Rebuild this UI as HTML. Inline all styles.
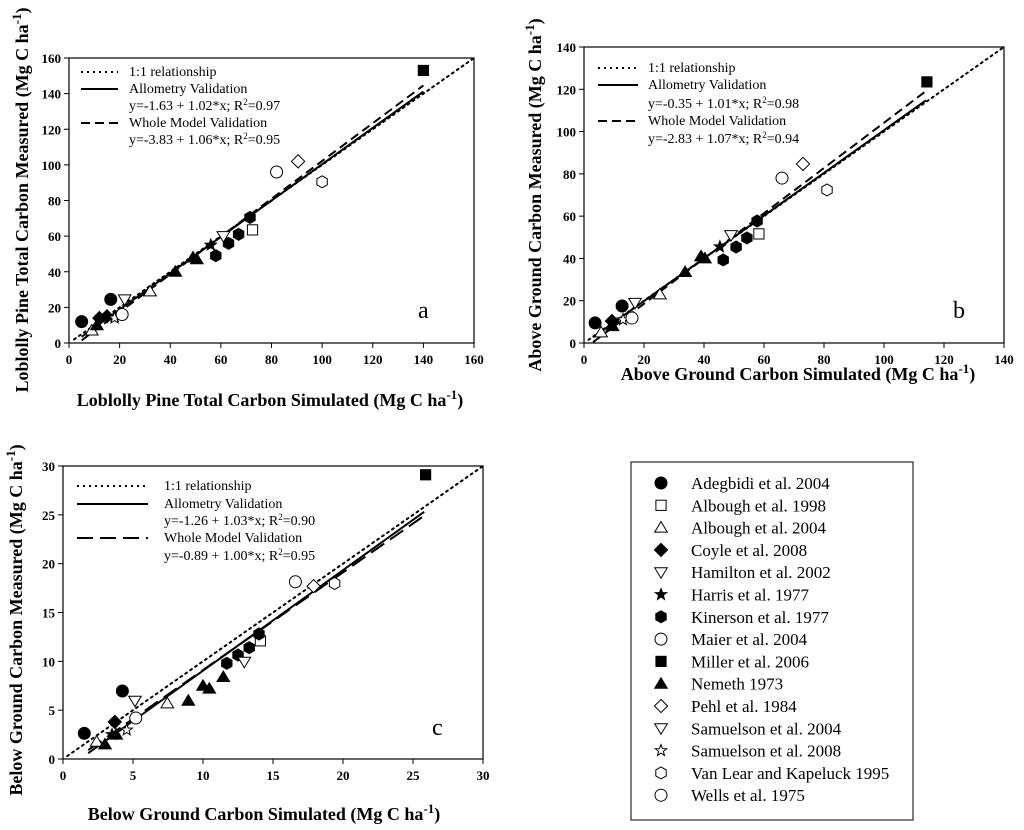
<!DOCTYPE html>
<html><head><meta charset="utf-8"><style>
body{margin:0;background:#fff}
svg{display:block;font-family:"Liberation Serif",serif}
.tk{font-size:13px;font-weight:bold}
.ti{font-size:18px;font-weight:bold}
.lg{font-size:14px}
</style></head><body>
<svg id="chart" width="1024" height="830" viewBox="0 0 1024 830">
<rect x="631" y="462" width="282" height="358" fill="none" stroke="#000" stroke-width="1"/>
</svg>
<script>
const seriesNames=["Adegbidi et al. 2004","Albough et al. 1998","Albough et al. 2004","Coyle et al. 2008","Hamilton et al. 2002","Harris et al. 1977","Kinerson et al. 1977","Maier et al. 2004","Miller et al. 2006","Nemeth 1973","Pehl et al. 1984","Samuelson et al. 2004","Samuelson et al. 2008","Van Lear and Kapeluck 1995"," Wells et al. 1975"];
const seriesShapes=["circle-f","square-o","tri-o","diamond-f","dtri-o","star-f","hex-f","circle-o","square-f","tri-f","diamond-o","dtri-o","star-o","hex-o","circle-o"];
// panel a
const aSeries=[0,0,1,2,2,3,3,4,5,5,6,6,6,6,7,8,9,9,9,9,10,11,12,13,14];
const aSim=[5,16.5,72.5,32,9,12,15,22,18,56,58,63,67,71.5,82,140,42,49,50.5,11,90.5,61,18,100,21];
const aMeas=[12,24.5,63.5,29,7,14,15,24.5,15,55,49,56,61,70.5,96,153,40,48,47,10,102,60,14,90.5,16];
const aTicks=[0,20,40,60,80,100,120,140,160];
// panel b
const bSeries=[0,0,1,2,2,3,4,5,6,6,6,6,7,8,9,9,9,9,10,11,12,13,14];
const bSim=[3.7,12.7,58.3,25.3,5.7,9.3,17,45.3,46.4,50.7,54.3,57.7,66,114.3,33.7,39,40.3,9.5,73,49,13,81,16];
const bMeas=[9.5,17.5,51.6,23,5,10.4,19,45.5,39.3,45.4,49.7,57.7,78,123.5,33.6,41,40,8,84.7,51,11,72.4,11.8];
const bTicks=[0,20,40,60,80,100,120,140];
// panel c
const cSeries=[0,0,1,2,2,3,4,5,6,6,6,6,7,8,9,9,9,9,9,9,10,11,12,13,14];
const cSim=[1.52,4.24,14.1,7.45,2.4,3.7,5.14,3.5,11.7,12.5,13.3,14,16.6,25.9,8.95,10,10.45,11.45,3,3.8,17.9,12.95,4.55,19.4,5.2];
const cMeas=[2.63,6.96,12.1,5.7,1.77,3.8,5.97,2.5,9.8,10.65,11.4,12.8,18.15,29.1,5.97,7.5,7.2,8.4,1.5,2.5,17.7,9.96,2.97,17.98,4.2];
const cTicks=[0,5,10,15,20,25,30];
// regression fits
const fitA=[-1.63,1.02],fitAW=[-3.83,1.06];
const fitB=[-0.35,1.01],fitBW=[-2.83,1.07];
const fitC=[-1.26,1.03],fitCW=[-0.89,1.00];
const eqA=["y=-1.63 + 1.02*x; R","0.97","y=-3.83 + 1.06*x; R","0.95"];
const eqB=["y=-0.35 + 1.01*x; R","0.98","y=-2.83 + 1.07*x; R","0.94"];
const eqC=["y=-1.26 + 1.03*x; R","0.90","y=-0.89 + 1.00*x; R","0.95"];

const NS="http://www.w3.org/2000/svg";
const svg=document.getElementById('chart');
function mk(tag,attrs,parent){const e=document.createElementNS(NS,tag);for(const k in attrs)e.setAttribute(k,attrs[k]);(parent||svg).appendChild(e);return e;}

function marker(g,shape,cx,cy,s){
  const filled=shape.endsWith('-f');
  const st={fill:filled?'#000':'#fff',stroke:'#000','stroke-width':1};
  const t=shape.split('-')[0];let e;
  if(t==='circle')e=mk('circle',Object.assign({cx:cx,cy:cy,r:s},st),g);
  else if(t==='square')e=mk('rect',Object.assign({x:cx-s*0.85,y:cy-s*0.85,width:s*1.7,height:s*1.7},st),g);
  else if(t==='tri')e=mk('polygon',Object.assign({points:`${cx},${cy-s} ${cx+s*1.05},${cy+s*0.75} ${cx-s*1.05},${cy+s*0.75}`},st),g);
  else if(t==='dtri')e=mk('polygon',Object.assign({points:`${cx},${cy+s} ${cx+s*1.05},${cy-s*0.75} ${cx-s*1.05},${cy-s*0.75}`},st),g);
  else if(t==='diamond')e=mk('polygon',Object.assign({points:`${cx},${cy-s*1.1} ${cx+s*1.1},${cy} ${cx},${cy+s*1.1} ${cx-s*1.1},${cy}`},st),g);
  else if(t==='hex'){let p=[];for(let i=0;i<6;i++){const a=Math.PI/6+i*Math.PI/3;p.push((cx+s*Math.cos(a)).toFixed(1)+','+(cy+s*Math.sin(a)).toFixed(1));}e=mk('polygon',Object.assign({points:p.join(' ')},st),g);}
  else if(t==='star'){let p=[];for(let i=0;i<10;i++){const r=i%2?s*0.42:s;const a=-Math.PI/2+i*Math.PI/5;p.push((cx+r*Math.cos(a)).toFixed(1)+','+(cy+r*Math.sin(a)).toFixed(1));}e=mk('polygon',Object.assign({points:p.join(' ')},st),g);}
  return e;
}

function panel(P){
  const g=mk('g',{});
  
  
  const X=v=>P.x0+(v-P.min)/(P.max-P.min)*(P.x1-P.x0);
  const Y=v=>P.y0-(v-P.min)/(P.max-P.min)*(P.y0-P.y1);
  const fr=mk('rect',{x:P.x0,y:P.y1,width:P.x1-P.x0,height:P.y0-P.y1,fill:'none',stroke:'#000','stroke-width':1.2},g);
  
  
  P.ticks.forEach(t=>{
    mk('line',{x1:X(t),y1:P.y0,x2:X(t),y2:P.y0+5,stroke:'#000'},g);
    mk('line',{x1:P.x0,y1:Y(t),x2:P.x0-5,y2:Y(t),stroke:'#000'},g);
    const tx=mk('text',{x:X(t),y:P.y0+21,'text-anchor':'middle',class:'tk'},g);tx.textContent=t;
    
    
    const ty=mk('text',{x:P.x0-8,y:Y(t)+5,'text-anchor':'end',class:'tk'},g);ty.textContent=t;
    
    
  });
  const l1=mk('line',{x1:X(P.d0),y1:Y(P.d0),x2:X(P.max),y2:Y(P.max),stroke:'#000','stroke-width':2,'stroke-dasharray':'2,4','stroke-linecap':'round'},g);
  
  
  const l2=mk('line',{x1:X(P.f0),y1:Y(P.fit[0]+P.fit[1]*P.f0),x2:X(P.f1),y2:Y(P.fit[0]+P.fit[1]*P.f1),stroke:'#000','stroke-width':2},g);
  
  
  const l3=mk('line',{x1:X(P.f0),y1:Y(P.fitW[0]+P.fitW[1]*P.f0),x2:X(P.f1),y2:Y(P.fitW[0]+P.fitW[1]*P.f1),stroke:'#000','stroke-width':2,'stroke-dasharray':P.dash},g);
  
  
  P.xs.forEach((v,i)=>{
    const m=marker(g,seriesShapes[P.ser[i]],X(v),Y(P.ys[i]),6);
    
    
  });
  const L=P.leg;
  const ls=[['2,4',2],[null,2],[P.dash,2]];
  [[0,'1:1 relationship'],[1,'Allometry Validation'],[2,'Whole Model Validation']].forEach((r,k)=>{
    const yy=L.ys[k===0?0:(k===1?1:3)];
    const a={x1:L.sx0,y1:yy-4,x2:L.sx1,y2:yy-4,stroke:'#000','stroke-width':2};
    if(ls[k][0])a['stroke-dasharray']=ls[k][0];
    const ln=mk('line',a,g);
    
    
    const t=mk('text',{x:L.tx,y:yy,class:'lg'},g);t.textContent=r[1];
    
    
  });
  [[2,0],[4,2]].forEach(([row,ei])=>{
    const t=mk('text',{x:L.tx,y:L.ys[row],class:'lg'},g);
    t.innerHTML=P.eq[ei]+'<tspan dy="-5" font-size="9">2</tspan><tspan dy="5">='+P.eq[ei+1]+'</tspan>';
    
    
  });
  const lt=mk('text',{x:P.lx,y:P.ly,'font-size':'24px'},g);lt.textContent=P.letter;
  
  
  const xt=mk('text',{x:P.xtx,y:P.xty,'text-anchor':'middle',class:'ti'},g);
  xt.innerHTML=P.xt+' (Mg C ha<tspan dy="-7" font-size="13">-1</tspan><tspan dy="7">)</tspan>';
  
  
  const yt=mk('text',{x:0,y:0,'text-anchor':'middle',class:'ti',transform:`translate(${P.ytx},${P.yty}) rotate(-90)`},g);
  yt.innerHTML=P.yt+' (Mg C ha<tspan dy="-7" font-size="13">-1</tspan><tspan dy="7">)</tspan>';
  
  
}

panel({name:'panel-a-total-carbon',x0:69,x1:474,y0:343,y1:58,min:0,max:160,ticks:aTicks,xs:aSim,ys:aMeas,ser:aSeries,
  fit:fitA,fitW:fitAW,f0:5,f1:140,d0:2,dash:'9,5',eq:eqA,
  leg:{sx0:81,sx1:118,tx:129,ys:[76,93,110,127,144]},letter:'a',lx:418,ly:318,
  xt:'Loblolly Pine Total Carbon Simulated',xtx:270,xty:406,yt:'Loblolly Pine Total Carbon Measured',ytx:28,yty:200});
panel({name:'panel-b-above-ground',x0:584,x1:1004,y0:343,y1:47,min:0,max:140,ticks:bTicks,xs:bSim,ys:bMeas,ser:bSeries,
  fit:fitB,fitW:fitBW,f0:3,f1:114,d0:1.5,dash:'9,5',eq:eqB,
  leg:{sx0:598,sx1:638,tx:648,ys:[72,89,108,125,143]},letter:'b',lx:953,ly:318,
  xt:'Above Ground Carbon Simulated',xtx:798,xty:380,yt:'Above Ground Carbon Measured',ytx:541,yty:195});
panel({name:'panel-c-below-ground',x0:63,x1:483,y0:759,y1:466,min:0,max:30,ticks:cTicks,xs:cSim,ys:cMeas,ser:cSeries,
  fit:fitC,fitW:fitCW,f0:1.8,f1:25.8,d0:0.3,dash:'16,7',eq:eqC,
  leg:{sx0:77,sx1:148,tx:164,ys:[490,508,525,542,560]},letter:'c',lx:432,ly:735,
  xt:'Below Ground Carbon Simulated',xtx:264,xty:820,yt:'Below Ground Carbon Measured',ytx:22,yty:620});

const lg=mk('g',{});


seriesNames.forEach((n,i)=>{
  const y=483+i*22.3;
  const m=marker(lg,seriesShapes[i],661,y,6);
  
  
  const t=mk('text',{x:691,y:y+6,'font-size':'17px'},lg);t.textContent=n;
  
  
});
</script>
</body></html>
